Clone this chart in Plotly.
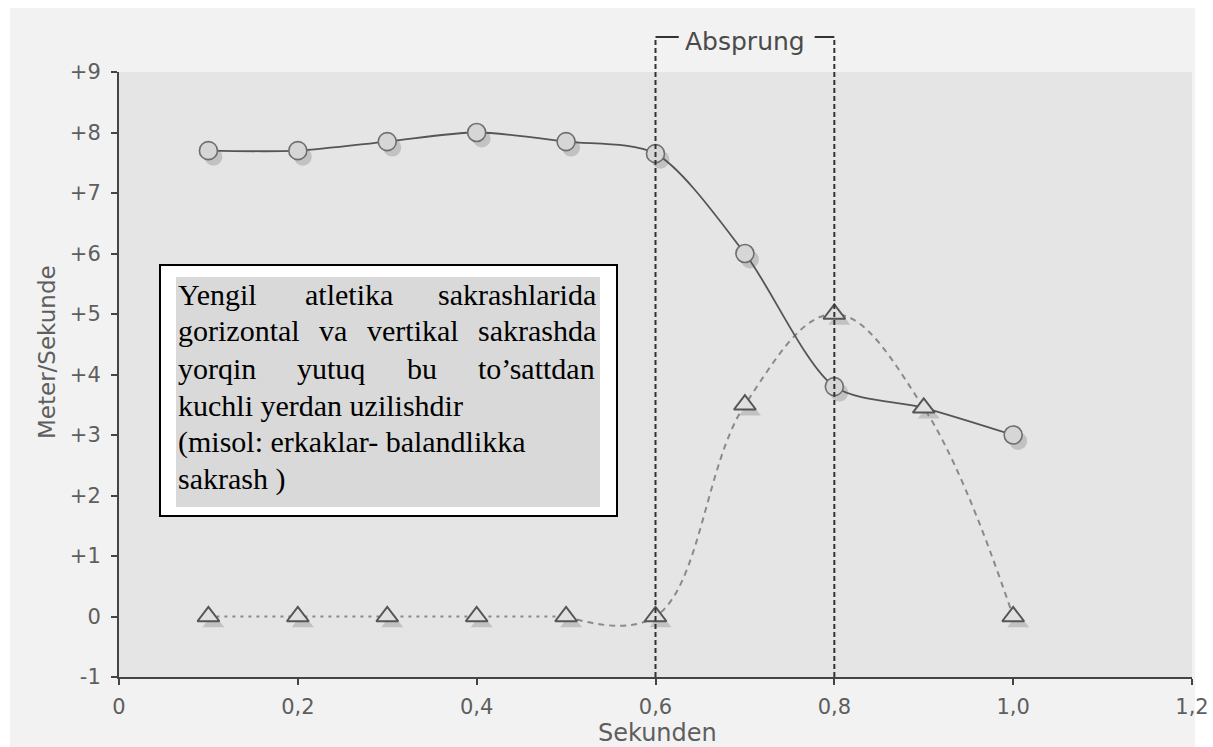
import plotly.graph_objects as go

# ---------------- data ----------------
seconds = [0.1, 0.2, 0.3, 0.4, 0.5, 0.6, 0.7, 0.8, 0.9, 1.0]
horizontal = [7.7, 7.7, 7.85, 8.0, 7.85, 7.65, 6.0, 3.8, 3.45, 3.0]
horizontal_marked = [True, True, True, True, True, True, True, True, False, True]
vertical = [0, 0, 0, 0, 0, 0, 3.5, 5.0, 3.45, 0]
flat_end_index = 4  # vertical values flat (dotted) up to 0.5

x_tickvals = [0, 0.2, 0.4, 0.6, 0.8, 1.0, 1.2]
x_ticktext = ["0", "0,2", "0,4", "0,6", "0,8", "1,0", "1,2"]
y_tickvals = [-1, 0, 1, 2, 3, 4, 5, 6, 7, 8, 9]
y_ticktext = ["-1", "0", "+1", "+2", "+3", "+4", "+5", "+6", "+7", "+8", "+9"]
absprung = [0.6, 0.8]

note_lines = [
    "Yengil atletika sakrashlarida",
    "gorizontal va vertikal sakrashda",
    "yorqin yutuq bu to\u2019sattdan",
    "kuchli yerdan uzilishdir",
    "(misol: erkaklar- balandlikka",
    "sakrash )",
]
note_justified = [True, True, True, False, False, False]

# ---------------- geometry ----------------
W, H = 1213, 747
L, R, T, B = 119, 21, 72, 70
PW, PH = W - L - R, H - T - B
XR = [0, 1.2]
YR = [-1, 9]


def px(x):
    return (x - L) / PW


def py(y):
    return (H - B - y) / PH


sdx = 5 / PW * (XR[1] - XR[0])
sdy = 6 / PH * (YR[1] - YR[0])

AX = "#444444"
TXT = "#5e5e5e"
SANS = "DejaVu Sans"
TICKFONT = dict(family=SANS, size=21, color=TXT)

fig = go.Figure()

# shadows (on hidden, shifted axes x/y)
fig.add_trace(go.Scatter(
    x=[s for s, m in zip(seconds, horizontal_marked) if m],
    y=[v for v, m in zip(horizontal, horizontal_marked) if m],
    mode="markers", xaxis="x", yaxis="y",
    marker=dict(symbol="circle", size=18, color="rgba(150,150,150,0.45)", line=dict(width=0)),
    hoverinfo="skip", showlegend=False))
fig.add_trace(go.Scatter(
    x=seconds, y=vertical, mode="markers", xaxis="x", yaxis="y",
    marker=dict(symbol="triangle-up", size=19, color="rgba(150,150,150,0.45)", line=dict(width=0)),
    hoverinfo="skip", showlegend=False))

# vertical: dotted flat part
fig.add_trace(go.Scatter(
    x=seconds[:flat_end_index + 1], y=vertical[:flat_end_index + 1],
    mode="lines", xaxis="x2", yaxis="y2",
    line=dict(color="#8a8a8a", width=2, dash="3px,5px"),
    hoverinfo="skip", showlegend=False))
# vertical: dashed spline part
fig.add_trace(go.Scatter(
    x=seconds[flat_end_index:], y=vertical[flat_end_index:],
    mode="lines", xaxis="x2", yaxis="y2",
    line=dict(color="#8a8a8a", width=2, dash="6px,5px", shape="spline", smoothing=1.1),
    hoverinfo="skip", showlegend=False))
# horizontal: solid spline
fig.add_trace(go.Scatter(
    x=seconds, y=horizontal, mode="lines", xaxis="x2", yaxis="y2",
    line=dict(color="#555555", width=1.8, shape="spline", smoothing=0.8),
    hoverinfo="skip", showlegend=False))
# markers
fig.add_trace(go.Scatter(
    x=seconds, y=vertical, mode="markers", xaxis="x2", yaxis="y2",
    marker=dict(symbol="triangle-up", size=19, color="#e0e0e0", line=dict(color="#555555", width=2)),
    showlegend=False))
fig.add_trace(go.Scatter(
    x=[s for s, m in zip(seconds, horizontal_marked) if m],
    y=[v for v, m in zip(horizontal, horizontal_marked) if m],
    mode="markers", xaxis="x2", yaxis="y2",
    marker=dict(symbol="circle", size=18, color="#d6d6d6", line=dict(color="#6e6e6e", width=1.6)),
    showlegend=False))

shapes = []
# white scan margins
shapes.append(dict(type="rect", xref="paper", yref="paper", x0=px(0), x1=px(W), y0=py(8), y1=py(0),
                   fillcolor="white", line=dict(width=0), layer="below"))
shapes.append(dict(type="rect", xref="paper", yref="paper", x0=px(0), x1=px(10), y0=py(H), y1=py(0),
                   fillcolor="white", line=dict(width=0), layer="below"))
shapes.append(dict(type="rect", xref="paper", yref="paper", x0=px(1195), x1=px(W), y0=py(H), y1=py(0),
                   fillcolor="white", line=dict(width=0), layer="below"))

# Absprung bracket
top_y = py(37)
for xv in absprung:
    shapes.append(dict(type="line", xref="x2", yref="paper", x0=xv, x1=xv, y0=0, y1=top_y,
                       line=dict(color="#333333", width=2, dash="5px,3px")))
shapes.append(dict(type="line", xref="x2", yref="paper", x0=absprung[0], x1=absprung[0] + 0.026,
                   y0=top_y, y1=top_y, line=dict(color="#333333", width=2)))
shapes.append(dict(type="line", xref="x2", yref="paper", x0=absprung[1] - 0.022, x1=absprung[1],
                   y0=top_y, y1=top_y, line=dict(color="#333333", width=2)))

# note box
shapes.append(dict(type="rect", xref="paper", yref="paper", x0=px(160), x1=px(617), y0=py(516), y1=py(265),
                   fillcolor="white", line=dict(color="black", width=2)))
shapes.append(dict(type="rect", xref="paper", yref="paper", x0=px(176), x1=px(600), y0=py(507), y1=py(277),
                   fillcolor="#d9d9d9", line=dict(width=0)))

annotations = []
annotations.append(dict(text="Absprung", xref="x2", yref="paper",
                        x=(absprung[0] + absprung[1]) / 2, y=py(41), showarrow=False,
                        font=dict(family=SANS, size=25, color="#4a4a4a"),
                        xanchor="center", yanchor="middle"))
annotations.append(dict(text="Meter/Sekunde", xref="paper", yref="paper", x=px(47), y=py(352),
                        textangle=-90, showarrow=False, font=dict(family=SANS, size=23, color=TXT),
                        xanchor="center", yanchor="middle"))
annotations.append(dict(text="Sekunden", xref="paper", yref="paper", x=px(657), y=py(733),
                        showarrow=False, font=dict(family=SANS, size=24, color=TXT),
                        xanchor="center", yanchor="middle"))

# Times / Liberation Serif advance widths (per 1000 em) for justification
TW = {'a': 444, 'b': 500, 'c': 444, 'd': 500, 'e': 444, 'f': 333, 'g': 500, 'h': 500, 'i': 278,
      'j': 278, 'k': 500, 'l': 278, 'm': 778, 'n': 500, 'o': 500, 'p': 500, 'q': 500, 'r': 333,
      's': 389, 't': 278, 'u': 500, 'v': 500, 'w': 722, 'x': 500, 'y': 500, 'z': 444, 'Y': 722,
      ' ': 250, '(': 333, ')': 333, ':': 278, '-': 333, '\u2019': 333}
NOTE_SIZE = 30
NOTE_FONT = dict(family="Liberation Serif", size=NOTE_SIZE, color="black")


def wwidth(w):
    return sum(TW.get(c, 500) for c in w) / 1000 * NOTE_SIZE


left_px, right_px = 177, 595
line_centers = [294, 331, 368, 405, 442, 479]
for text, just, yc in zip(note_lines, note_justified, line_centers):
    if not just:
        annotations.append(dict(text=text, xref="paper", yref="paper", x=px(left_px), y=py(yc),
                                showarrow=False, font=NOTE_FONT, xanchor="left", yanchor="middle",
                                borderpad=0))
        continue
    words = text.split(" ")
    widths = [wwidth(w) for w in words]
    gap = (right_px - left_px - sum(widths)) / (len(words) - 1)
    xcur = left_px
    for w, wd in zip(words, widths):
        annotations.append(dict(text=w, xref="paper", yref="paper", x=px(xcur), y=py(yc),
                                showarrow=False, font=NOTE_FONT, xanchor="left", yanchor="middle",
                                borderpad=0))
        xcur += wd + gap

fig.update_layout(
    width=W, height=H, autosize=False,
    margin=dict(l=L, r=R, t=T, b=B, autoexpand=False),
    paper_bgcolor="#f2f2f2",
    plot_bgcolor="#e5e5e5",
    showlegend=False,
    xaxis=dict(range=[XR[0] - sdx, XR[1] - sdx], visible=False, fixedrange=True),
    yaxis=dict(range=[YR[0] + sdy, YR[1] + sdy], visible=False, fixedrange=True),
    xaxis2=dict(range=XR, overlaying="x", side="bottom", showgrid=False, zeroline=False,
                showline=True, linecolor=AX, linewidth=2, ticks="outside", ticklen=6,
                tickwidth=2, tickcolor=AX, tickvals=x_tickvals, ticktext=x_ticktext,
                tickfont=TICKFONT, ticklabelstandoff=4, fixedrange=True, automargin=False),
    yaxis2=dict(range=YR, overlaying="y", side="left", showgrid=False, zeroline=False,
                showline=True, linecolor=AX, linewidth=2, ticks="outside", ticklen=6,
                tickwidth=2, tickcolor=AX, tickvals=y_tickvals, ticktext=y_ticktext,
                tickfont=TICKFONT, ticklabelstandoff=6, fixedrange=True, automargin=False),
    shapes=shapes,
    annotations=annotations,
)

fig.write_html("out.html",
               config={"displayModeBar": False, "responsive": False},
               post_script="document.body.style.margin='0';document.body.style.overflow='hidden';")
